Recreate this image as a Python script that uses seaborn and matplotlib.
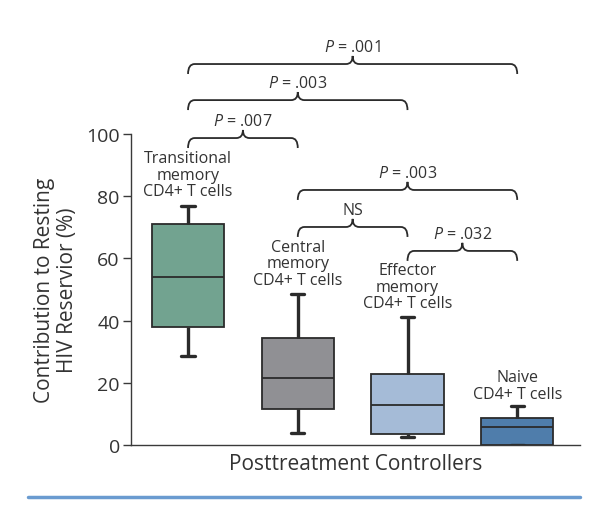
import numpy as np
import pandas as pd
import matplotlib.pyplot as plt
import matplotlib.lines as mlines
from matplotlib.path import Path
from matplotlib.patches import PathPatch
import seaborn as sns

sns.set_theme(style="white")
plt.rcParams["font.family"] = ["Open Sans", "DejaVu Sans"]
plt.rcParams["mathtext.fontset"] = "custom"
plt.rcParams["mathtext.it"] = "Open Sans:italic"
plt.rcParams["mathtext.rm"] = "Open Sans"

# Box stats: [min, q1, median, q3, max]
cells = ["Transitional", "Central", "Effector", "Naive"]
transitional = [28.6, 38.0, 54.0, 71.0, 77.0]
central = [3.8, 11.5, 21.5, 34.4, 48.5]
effector = [2.5, 3.5, 12.9, 22.8, 41.0]
naive = [0.0, 0.0, 5.8, 8.6, 12.5]
box_colors = ["#6aab92", "#8f9095", "#9dbadf", "#3f7dbb"]
cell_labels = ["Transitional\nmemory\nCD4+ T cells", "Central\nmemory\nCD4+ T cells",
               "Effector\nmemory\nCD4+ T cells", "Naive\nCD4+ T cells"]
label_bottoms = [79, 50.5, 43, 13.8]

# Comparisons: (from, to, bracket level, text)
comp_from = [0, 0, 0, 1, 1, 2]
comp_to = [3, 2, 1, 3, 2, 3]
comp_level = [122.5, 110.9, 98.7, 82.0, 70.1, 62.4]
comp_text = ["$\\it{P}$ = .001", "$\\it{P}$ = .003", "$\\it{P}$ = .007",
             "$\\it{P}$ = .003", "NS", "$\\it{P}$ = .032"]

df = pd.DataFrame({
    "cell": np.repeat(cells, 5),
    "value": transitional + central + effector + naive,
})

fig = plt.figure(figsize=(6, 5.06), dpi=100)
ax = fig.add_axes([0.2183, 0.1186, 0.748, 0.6146])

sns.boxplot(data=df, x="cell", y="value", hue="cell", palette=box_colors,
            width=0.66, whis=(0, 100), linecolor="#2b2b2b", linewidth=1.3,
            capwidths=0.12, whiskerprops={"linewidth": 2.4},
            capprops={"linewidth": 2.4}, medianprops={"linewidth": 1.3},
            legend=False, ax=ax)

ax.set_xlim(-0.52, 3.57)
ax.set_ylim(0, 100)
ax.set_yticks([0, 20, 40, 60, 80, 100])
ax.set_xticks([])
for side in ["top", "right"]:
    ax.spines[side].set_visible(False)
for side in ["left", "bottom"]:
    ax.spines[side].set_color("#3a3a3a")
    ax.spines[side].set_linewidth(1.0)
ax.tick_params(axis="y", direction="out", length=6, width=1.0, color="#3a3a3a",
               labelsize=14, labelcolor="#333333", pad=2, left=True)
ax.set_xlabel("Posttreatment Controllers", fontsize=15, color="#333333", labelpad=6)
ax.set_ylabel("Contribution to Resting\nHIV Reservior (%)", fontsize=15,
              color="#333333", labelpad=6, linespacing=1.1)

for i, lab in enumerate(cell_labels):
    ax.text(i, label_bottoms[i], lab, ha="center", va="bottom", fontsize=11.5,
            color="#333333", linespacing=1.05)


def brace(x0, x1, y):
    dy = 3.2
    tip = 2.6
    xm = (x0 + x1) / 2
    r = 0.06
    verts = [(x0, y - dy), (x0, y), (x0 + r, y),
             (xm - r, y), (xm, y), (xm, y + tip),
             (xm, y), (xm + r, y),
             (x1 - r, y), (x1, y), (x1, y - dy)]
    codes = [Path.MOVETO, Path.CURVE3, Path.CURVE3,
             Path.LINETO, Path.CURVE3, Path.CURVE3,
             Path.CURVE3, Path.CURVE3,
             Path.LINETO, Path.CURVE3, Path.CURVE3]
    return PathPatch(Path(verts, codes), fill=False, lw=1.3, edgecolor="#2b2b2b",
                     clip_on=False)


for a, b, lvl, txt in zip(comp_from, comp_to, comp_level, comp_text):
    ax.add_patch(brace(a, b, lvl))
    ax.text((a + b) / 2, lvl + 3.0, txt, ha="center", va="bottom", fontsize=11.5,
            color="#333333", clip_on=False)

fig.add_artist(mlines.Line2D([28 / 600, 580 / 600], [1 - 497.5 / 506] * 2,
                             color="#6a9bd0", lw=2.5, transform=fig.transFigure))

fig.savefig("out.png", dpi=100, facecolor="white")
